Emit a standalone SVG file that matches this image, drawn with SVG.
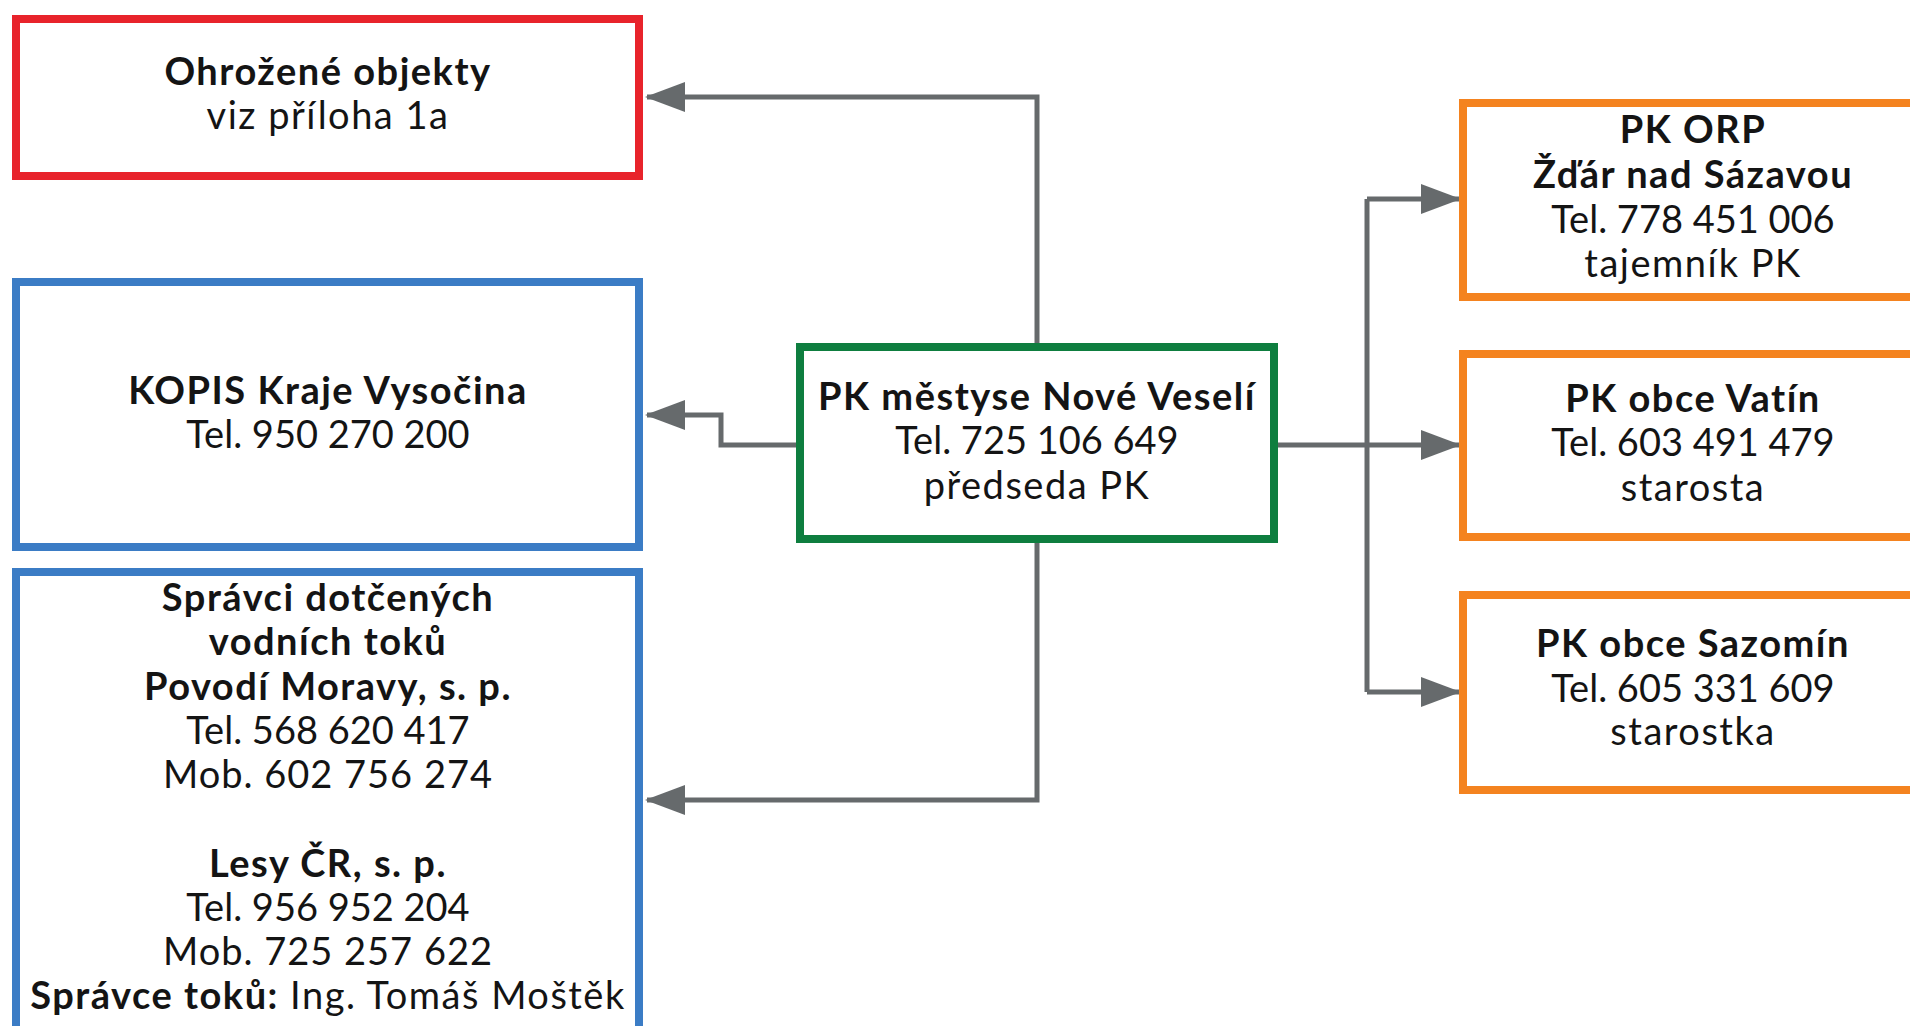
<svg xmlns="http://www.w3.org/2000/svg" width="1910" height="1026" viewBox="0 0 1910 1026">
<defs>
<style>
.box{fill:#fff;stroke-width:8}
.red{stroke:#e8232b}
.blue{stroke:#3b7cc5}
.green{stroke:#0e7e3f}
.orange{stroke:#f4831f}
text{font-family:Lato,"Open Sans","DejaVu Sans",sans-serif;font-size:38px;fill:#141414;text-anchor:middle;letter-spacing:1.5px}
.b{font-weight:bold}
.t{letter-spacing:0}
.m{letter-spacing:1px}
.conn{fill:none;stroke:#666a6c;stroke-width:5}
</style>
<marker id="arr" viewBox="0 0 40 30" markerWidth="40" markerHeight="30" refX="38" refY="15" orient="auto" markerUnits="userSpaceOnUse">
<path d="M0,0 L40,15 L0,30 z" fill="#666a6c"/>
</marker>
</defs>
<rect width="1910" height="1026" fill="#fff"/>
<g id="connectors">
<path class="conn" d="M1037,346 V97 H647" marker-end="url(#arr)"/>
<path class="conn" d="M798,445 H721 V415 H647" marker-end="url(#arr)"/>
<path class="conn" d="M1037,541 V800 H647" marker-end="url(#arr)"/>
<path class="conn" d="M1275,445 H1459" marker-end="url(#arr)"/>
<path class="conn" d="M1367,199 V692"/>
<path class="conn" d="M1367,199 H1459" marker-end="url(#arr)"/>
<path class="conn" d="M1367,692 H1459" marker-end="url(#arr)"/>
</g>
<g id="ohrozene">
<rect class="box red" x="16" y="19" width="623" height="157"/>
<text x="328" y="85" class="b">Ohrožené objekty</text>
<text x="328" y="129">viz příloha 1a</text>
</g>
<g id="kopis">
<rect class="box blue" x="16" y="282" width="623" height="265"/>
<text x="328" y="404" class="b">KOPIS Kraje Vysočina</text>
<text x="328" y="448" class="t">Tel. 950 270 200</text>
</g>
<g id="spravci">
<rect class="box blue" x="16" y="572" width="623" height="480"/>
<text x="328" y="611" class="b">Správci dotčených</text>
<text x="328" y="655" class="b">vodních toků</text>
<text x="328" y="700" class="b">Povodí Moravy, s. p.</text>
<text x="328" y="744" class="t">Tel. 568 620 417</text>
<text x="328" y="788" class="m">Mob. 602 756 274</text>
<text x="328" y="877" class="b">Lesy ČR, s. p.</text>
<text x="328" y="921" class="t">Tel. 956 952 204</text>
<text x="328" y="965" class="m">Mob. 725 257 622</text>
<text x="328" y="1009"><tspan class="b">Správce toků:</tspan> Ing. Tomáš Moštěk</text>
</g>
<g id="nove-veseli">
<rect class="box green" x="800" y="347" width="474" height="192"/>
<text x="1037" y="410" class="b">PK městyse Nové Veselí</text>
<text x="1037" y="454" class="t">Tel. 725 106 649</text>
<text x="1037" y="499">předseda PK</text>
</g>
<g id="orp">
<rect class="box orange" x="1463" y="103" width="500" height="194"/>
<text x="1693" y="143" class="b">PK ORP</text>
<text x="1693" y="188" class="b">Žďár nad Sázavou</text>
<text x="1693" y="233" class="t">Tel. 778 451 006</text>
<text x="1693" y="277">tajemník PK</text>
</g>
<g id="vatin">
<rect class="box orange" x="1463" y="354" width="500" height="183"/>
<text x="1693" y="412" class="b">PK obce Vatín</text>
<text x="1693" y="456" class="t">Tel. 603 491 479</text>
<text x="1693" y="501">starosta</text>
</g>
<g id="sazomin">
<rect class="box orange" x="1463" y="595" width="500" height="195"/>
<text x="1693" y="657" class="b">PK obce Sazomín</text>
<text x="1693" y="702" class="t">Tel. 605 331 609</text>
<text x="1693" y="745">starostka</text>
</g>
</svg>
